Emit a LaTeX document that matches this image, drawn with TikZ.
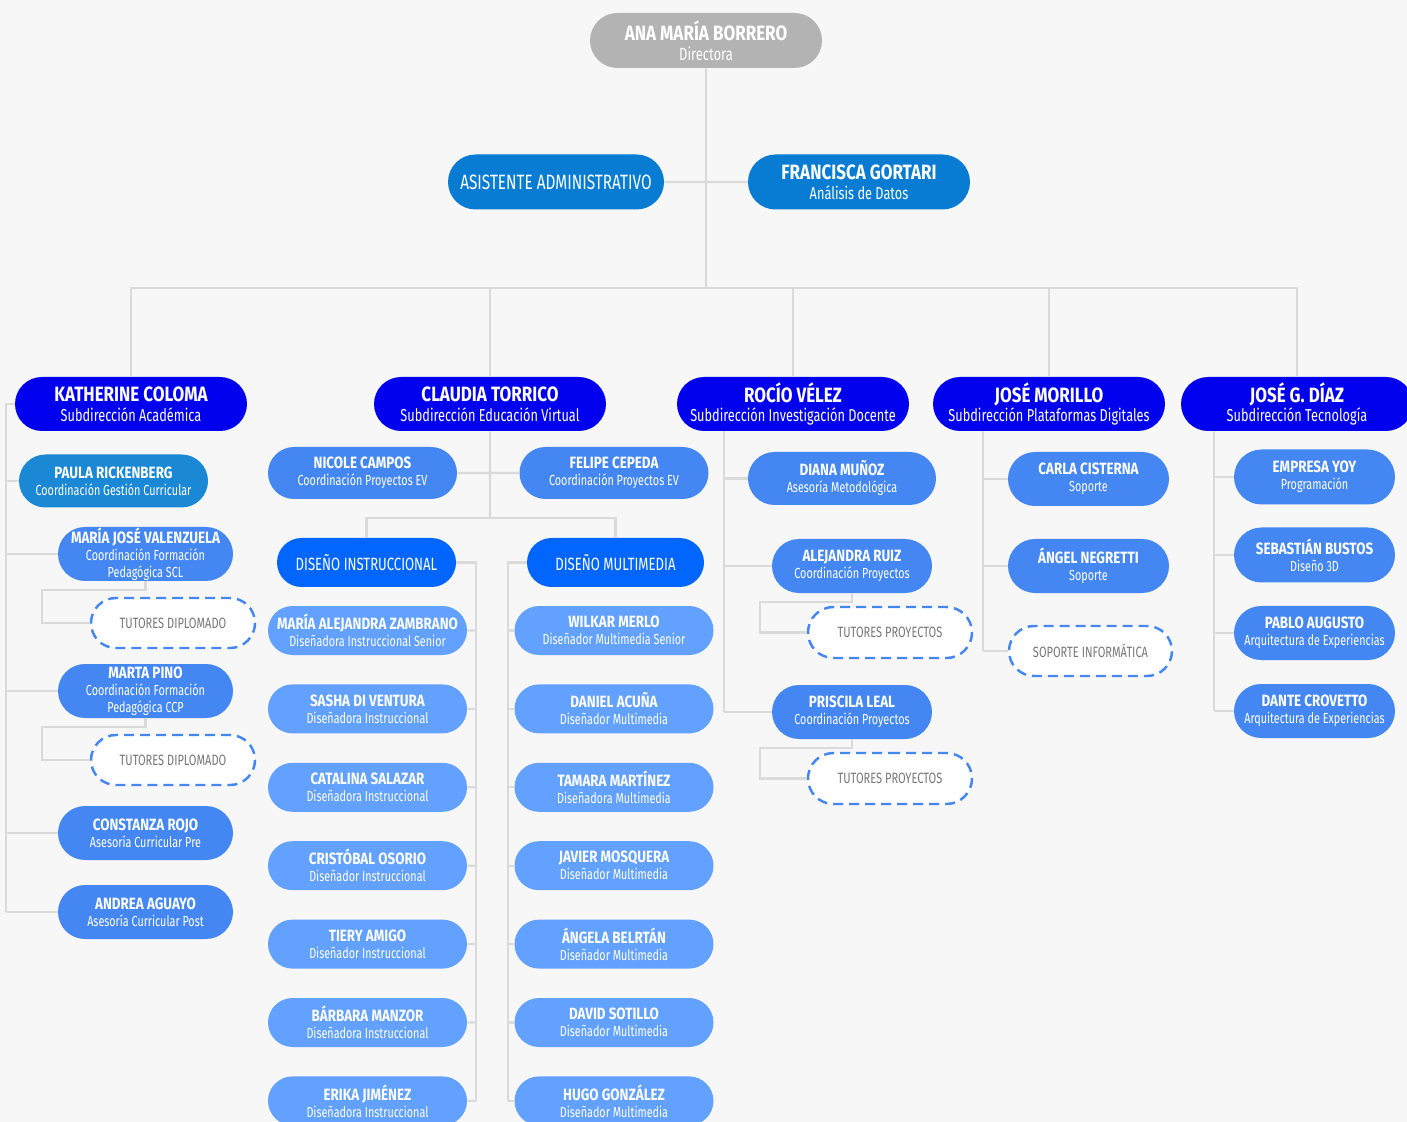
\documentclass[tikz,border=0pt]{standalone}
\usepackage{fontspec}
\setmainfont{Fira Sans}[FakeStretch=0.74, BoldFeatures={FakeStretch=0.82}]
\usetikzlibrary{shapes.misc, positioning}

\definecolor{bggray}{HTML}{F7F7F7}
\definecolor{linegray}{HTML}{DADADA}
\definecolor{bossgray}{HTML}{B3B3B3}
\definecolor{staffblue}{HTML}{077CD2}
\definecolor{headblue}{HTML}{0000EE}
\definecolor{paulablue}{HTML}{1A88D4}
\definecolor{midblue}{HTML}{4487F2}
\definecolor{teamblue}{HTML}{0066FF}
\definecolor{lightblue}{HTML}{62A1FF}
\definecolor{tutgray}{HTML}{777777}

\newcommand{\topname}[1]{{\fontsize{11.8}{11.4}\selectfont\bfseries #1}}
\newcommand{\bigname}[1]{{\fontsize{11.8}{11.4}\selectfont\bfseries #1}}
\newcommand{\smallname}[1]{{\fontsize{9.3}{9.7}\selectfont\bfseries #1}}

\begin{document}
\begin{tikzpicture}[node distance=1.568cm]
\tikzstyle{pill} = [rounded rectangle, align=center, text=white, inner sep=0pt]
\tikzstyle{boss} = [pill, fill=bossgray, minimum width=4.64cm, minimum height=1.1cm, font=\fontsize{10}{11.2}\selectfont]
\tikzstyle{staff} = [pill, fill=staffblue, minimum height=1.1cm, font=\fontsize{9.8}{11.2}\selectfont]
\tikzstyle{head} = [pill, fill=headblue, minimum width=4.64cm, minimum height=1.08cm, font=\fontsize{9.8}{11.2}\selectfont]
\tikzstyle{coord} = [pill, fill=midblue, minimum width=3.5cm, minimum height=1.08cm, font=\fontsize{8.3}{9.7}\selectfont]
\tikzstyle{team} = [pill, fill=teamblue, minimum height=0.98cm, font=\fontsize{10.1}{12}\selectfont]
\tikzstyle{designer} = [pill, fill=lightblue, minimum width=3.98cm, minimum height=0.98cm, font=\fontsize{8.3}{9.7}\selectfont]
\tikzstyle{tutors} = [pill, fill=white, draw=midblue, line width=1.4pt, dash pattern=on 0.2cm off 0.12cm, text=tutgray, minimum width=3.28cm, minimum height=1cm, font=\fontsize{8.5}{10}\selectfont]
\tikzstyle{line} = [draw=linegray, line width=1.3pt]

\useasboundingbox (0,0) rectangle (28.14,-22.44);
\fill [bggray] (0,0) rectangle (28.14,-22.44);
\clip (0,0) rectangle (28.14,-22.44);

% direction
\node (dir) [boss] at (14.12,-0.81) {\topname{ANA MARÍA BORRERO}\\Directora};
\node (asis) [staff, minimum width=4.32cm, font=\fontsize{11.8}{13}\selectfont] at (11.12,-3.64) {ASISTENTE ADMINISTRATIVO};
\node (fg) [staff, minimum width=4.44cm] at (17.18,-3.64) {\bigname{FRANCISCA GORTARI}\\Análisis de Datos};
\coordinate (bus) at (14.12,-5.76);

% subdirecciones
\node (kc) [head] at (2.62,-8.08) {\bigname{KATHERINE COLOMA}\\Subdirección Académica};
\node (ct) [head] at (9.80,-8.08) {\bigname{CLAUDIA TORRICO}\\Subdirección Educación Virtual};
\node (rv) [head] at (15.86,-8.08) {\bigname{ROCÍO VÉLEZ}\\Subdirección Investigación Docente};
\node (jm) [head] at (20.98,-8.08) {\bigname{JOSÉ MORILLO}\\Subdirección Plataformas Digitales};
\node (jd) [head] at (25.94,-8.08) {\bigname{JOSÉ G. DÍAZ}\\Subdirección Tecnología};

% academica
\node (pr) [coord, fill=paulablue, minimum width=3.78cm, minimum height=1.06cm] at (2.27,-9.62) {\smallname{PAULA RICKENBERG}\\Coordinación Gestión Curricular};
\node (mjv) [coord] at (2.91,-11.08) {\makebox[2.4cm]{\smallname{MARÍA JOSÉ VALENZUELA}}\\Coordinación Formación\\Pedagógica SCL};
\node (td1) [tutors] at (3.46,-12.46) {TUTORES DIPLOMADO};
\node (mp) [coord, below of=mjv, node distance=2.74cm] {\smallname{MARTA PINO}\\Coordinación Formación\\Pedagógica CCP};
\node (td2) [tutors, below of=td1, node distance=2.74cm] {TUTORES DIPLOMADO};
\node (cr) [coord, below of=mp, node distance=2.84cm] {\smallname{CONSTANZA ROJO}\\Asesoría Curricular Pre};
\node (aa) [coord, below of=cr, node distance=1.58cm] {\smallname{ANDREA AGUAYO}\\Asesoría Curricular Post};
\coordinate (c1end) at (0.12,-18.24);

% educacion virtual
\node (nc) [coord, minimum width=3.78cm, minimum height=1.04cm] at (7.25,-9.46) {\smallname{NICOLE CAMPOS}\\Coordinación Proyectos EV};
\node (fc) [coord, minimum width=3.78cm, minimum height=1.04cm] at (12.28,-9.46) {\smallname{FELIPE CEPEDA}\\Coordinación Proyectos EV};
\node (di) [team, minimum width=3.58cm] at (7.33,-11.25) {DISEÑO INSTRUCCIONAL};
\node (dm) [team, minimum width=3.54cm] at (12.31,-11.25) {DISEÑO MULTIMEDIA};
\coordinate (ctend) at (9.80,-10.36);
\coordinate (diend) at (9.52,-22.02);
\coordinate (dmend) at (10.16,-22.02);

\node (d1) [designer] at (7.35,-12.61) {\smallname{MARÍA ALEJANDRA ZAMBRANO}\\Diseñadora Instruccional Senior};
\node (d2) [designer, below of=d1] {\smallname{SASHA DI VENTURA}\\Diseñadora Instruccional};
\node (d3) [designer, below of=d2] {\smallname{CATALINA SALAZAR}\\Diseñadora Instruccional};
\node (d4) [designer, below of=d3] {\smallname{CRISTÓBAL OSORIO}\\Diseñador Instruccional};
\node (d5) [designer, below of=d4] {\smallname{TIERY AMIGO}\\Diseñador Instruccional};
\node (d6) [designer, below of=d5] {\smallname{BÁRBARA MANZOR}\\Diseñadora Instruccional};
\node (d7) [designer, below of=d6] {\smallname{ERIKA JIMÉNEZ}\\Diseñadora Instruccional};

\node (m1) [designer] at (12.28,-12.61) {\smallname{WILKAR MERLO}\\Diseñador Multimedia Senior};
\node (m2) [designer, below of=m1] {\smallname{DANIEL ACUÑA}\\Diseñador Multimedia};
\node (m3) [designer, below of=m2] {\smallname{TAMARA MARTÍNEZ}\\Diseñadora Multimedia};
\node (m4) [designer, below of=m3] {\smallname{JAVIER MOSQUERA}\\Diseñador Multimedia};
\node (m5) [designer, below of=m4] {\smallname{ÁNGELA BELRTÁN}\\Diseñador Multimedia};
\node (m6) [designer, below of=m5] {\smallname{DAVID SOTILLO}\\Diseñador Multimedia};
\node (m7) [designer, below of=m6] {\smallname{HUGO GONZÁLEZ}\\Diseñador Multimedia};

% investigacion docente
\node (dmz) [coord, minimum width=3.76cm, minimum height=1.06cm] at (16.84,-9.57) {\smallname{DIANA MUÑOZ}\\Asesoría Metodológica};
\node (ar) [coord, minimum width=3.2cm] at (17.04,-11.32) {\smallname{ALEJANDRA RUIZ}\\Coordinación Proyectos};
\node (tp1) [tutors, minimum height=1.02cm] at (17.80,-12.65) {TUTORES PROYECTOS};
\node (pl) [coord, minimum width=3.2cm, below of=ar, node distance=2.92cm] {\smallname{PRISCILA LEAL}\\Coordinación Proyectos};
\node (tp2) [tutors, minimum height=1.02cm, below of=tp1, node distance=2.92cm] {TUTORES PROYECTOS};
\coordinate (c3end) at (14.48,-14.24);

% plataformas digitales
\node (cc) [coord, minimum width=3.22cm] at (21.77,-9.58) {\smallname{CARLA CISTERNA}\\Soporte};
\node (an) [coord, minimum width=3.22cm, below of=cc, node distance=1.74cm] {\smallname{ÁNGEL NEGRETTI}\\Soporte};
\node (si) [tutors, minimum width=3.26cm, below of=an, node distance=1.70cm, xshift=0.04cm] {SOPORTE INFORMÁTICA};
\coordinate (c4end) at (19.66,-13.02);

% tecnologia
\node (ey) [coord, minimum width=3.22cm, minimum height=1.1cm] at (26.29,-9.54) {\smallname{EMPRESA YOY}\\Programación};
\node (sb) [coord, minimum width=3.22cm, minimum height=1.1cm, below of=ey, node distance=1.56cm] {\smallname{SEBASTIÁN BUSTOS}\\Diseño 3D};
\node (pa) [coord, minimum width=3.22cm, below of=sb, node distance=1.56cm] {\smallname{PABLO AUGUSTO}\\Arquitectura de Experiencias};
\node (dc) [coord, minimum width=3.22cm, below of=pa, node distance=1.56cm] {\smallname{DANTE CROVETTO}\\Arquitectura de Experiencias};
\coordinate (c5end) at (24.28,-14.22);

% lines
\path [line] (dir) -- (bus);
\path [line] (asis) -- (fg);
\path [line] (bus) -| (kc);
\path [line] (bus) -| (ct);
\path [line] (bus) -| (rv);
\path [line] (bus) -| (jm);
\path [line] (bus) -| (jd);

\path [line] (kc.west) -| (c1end);
\path [line] (c1end |- pr) -- (pr);
\path [line] (c1end |- mjv) -- (mjv);
\path [line] (c1end |- mp) -- (mp);
\path [line] (c1end |- cr) -- (cr);
\path [line] (c1end |- aa) -- (aa);
\path [line] (mjv.south) -- ++(0,-0.18) -| ([xshift=-0.96cm]td1.west) -- (td1.west);
\path [line] (mp.south) -- ++(0,-0.18) -| ([xshift=-0.96cm]td2.west) -- (td2.west);

\path [line] (ct) -- (ctend);
\path [line] (nc) -- (fc);
\path [line] (ctend) -| (di);
\path [line] (ctend) -| (dm);
\path [line] (di) -| (diend);
\path [line] (dm) -| (dmend);
\path [line] (diend |- d1) -- (d1);
\path [line] (diend |- d2) -- (d2);
\path [line] (diend |- d3) -- (d3);
\path [line] (diend |- d4) -- (d4);
\path [line] (diend |- d5) -- (d5);
\path [line] (diend |- d6) -- (d6);
\path [line] (diend |- d7) -- (d7);
\path [line] (dmend |- m1) -- (m1);
\path [line] (dmend |- m2) -- (m2);
\path [line] (dmend |- m3) -- (m3);
\path [line] (dmend |- m4) -- (m4);
\path [line] (dmend |- m5) -- (m5);
\path [line] (dmend |- m6) -- (m6);
\path [line] (dmend |- m7) -- (m7);

\path [line] (rv.south -| c3end) -- (c3end);
\path [line] (c3end |- dmz) -- (dmz);
\path [line] (c3end |- ar) -- (ar);
\path [line] (c3end |- pl) -- (pl);
\path [line] (ar.south) -- ++(0,-0.18) -| ([xshift=-0.94cm]tp1.west) -- (tp1.west);
\path [line] (pl.south) -- ++(0,-0.18) -| ([xshift=-0.94cm]tp2.west) -- (tp2.west);

\path [line] (jm.south -| c4end) -- (c4end);
\path [line] (c4end |- cc) -- (cc);
\path [line] (c4end |- an) -- (an);
\path [line] (c4end |- si) -- (si);

\path [line] (jd.south -| c5end) -- (c5end);
\path [line] (c5end |- ey) -- (ey);
\path [line] (c5end |- sb) -- (sb);
\path [line] (c5end |- pa) -- (pa);
\path [line] (c5end |- dc) -- (dc);

\end{tikzpicture}
\end{document}
